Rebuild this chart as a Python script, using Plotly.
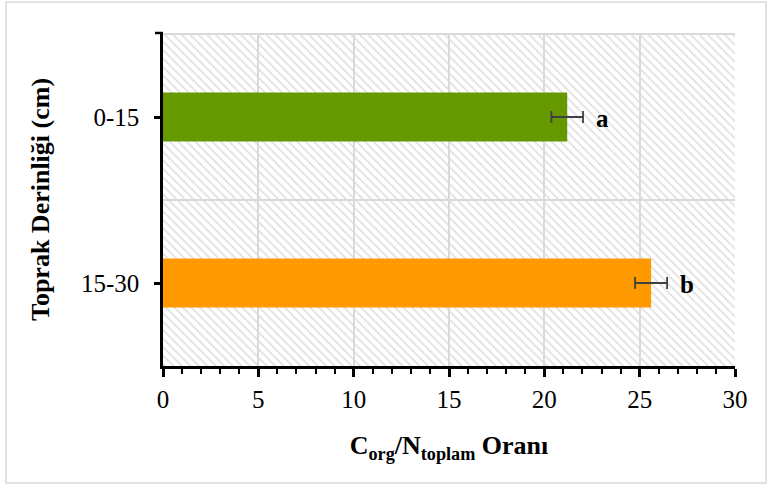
import plotly.graph_objects as go

categories = ["0-15", "15-30"]
values = [21.2, 25.6]
errors = [0.83, 0.84]
letters = ["a", "b"]
bar_colors = ["#669900", "#ff9900"]
x_max = 30

W, H = 767, 486
ml, mr, mt, mb = 163, 32, 33, 120
pw, ph = W - ml - mr, H - mt - mb

def px_x(p):
    return (p - ml) / pw

def px_y(p):
    return (H - mb - p) / ph

fig = go.Figure()

# hatched plot background
fig.add_trace(go.Bar(
    y=categories, x=[x_max] * len(categories), orientation="h", width=1,
    marker=dict(color="#dcdcdc", line=dict(width=0),
                pattern=dict(shape="\\", fillmode="replace", size=6, solidity=0.25,
                             bgcolor="rgba(0,0,0,0)")),
    hoverinfo="skip", showlegend=False,
))

fig.add_trace(go.Bar(
    y=categories, x=values, orientation="h", width=0.295,
    marker=dict(color=bar_colors, line=dict(width=0)),
    error_x=dict(type="data", array=errors, color="#404040", thickness=1.8, width=6),
    showlegend=False,
))

for c, v, e, t in zip(categories, values, errors, letters):
    fig.add_annotation(x=v + e, y=c, text="<b>" + t + "</b>", showarrow=False,
                       xanchor="left", xshift=11, yshift=-1,
                       font=dict(family="Liberation Serif", size=25, color="black"))

# horizontal grid lines at category boundaries
for yb in [-0.5, 0.5]:
    fig.add_shape(type="line", xref="x", yref="y", x0=0, x1=x_max, y0=yb, y1=yb,
                  line=dict(color="#d9d9d9", width=2), layer="below")

# top tick on y axis
fig.add_shape(type="line", xref="paper", yref="paper", x0=px_x(155), x1=0, y0=1, y1=1,
              line=dict(color="black", width=2.5))

# figure border
fig.add_shape(type="rect", xref="paper", yref="paper",
              x0=px_x(6), x1=px_x(766), y0=px_y(483), y1=px_y(2),
              line=dict(color="#d9d9d9", width=1.5), fillcolor="rgba(0,0,0,0)")

fig.update_layout(
    width=W, height=H,
    margin=dict(l=ml, r=mr, t=mt, b=mb, autoexpand=False),
    paper_bgcolor="white", plot_bgcolor="white",
    barmode="overlay",
    font=dict(family="Liberation Serif", size=25, color="black"),
    xaxis=dict(range=[0, x_max], dtick=5, tick0=0, showgrid=True, gridcolor="#d9d9d9",
               gridwidth=2, zeroline=False, showline=True, linecolor="black", linewidth=2.5,
               ticks="outside", ticklen=8, tickwidth=2.5, tickcolor="black",
               minor=dict(dtick=1, ticks="outside", ticklen=5, tickwidth=2, tickcolor="black",
                          showgrid=False),
               ticklabelstandoff=1,
               title=dict(text="<b>C<sub>org</sub>/N<sub>toplam</sub> Oranı</b>",
                          font=dict(size=26), standoff=25),
               automargin=False, fixedrange=True),
    yaxis=dict(autorange="reversed", showgrid=False, zeroline=False, showline=True,
               linecolor="black", linewidth=2.5, ticks="outside", ticklen=6, tickwidth=2.5,
               tickcolor="black", ticklabelstandoff=10,
               title=dict(text="<b>Toprak Derinliği (cm)</b>", font=dict(size=26), standoff=24),
               automargin=False, fixedrange=True),
)

fig.write_html("out.html", config={"displayModeBar": False},
               post_script="document.body.style.margin='0';")
